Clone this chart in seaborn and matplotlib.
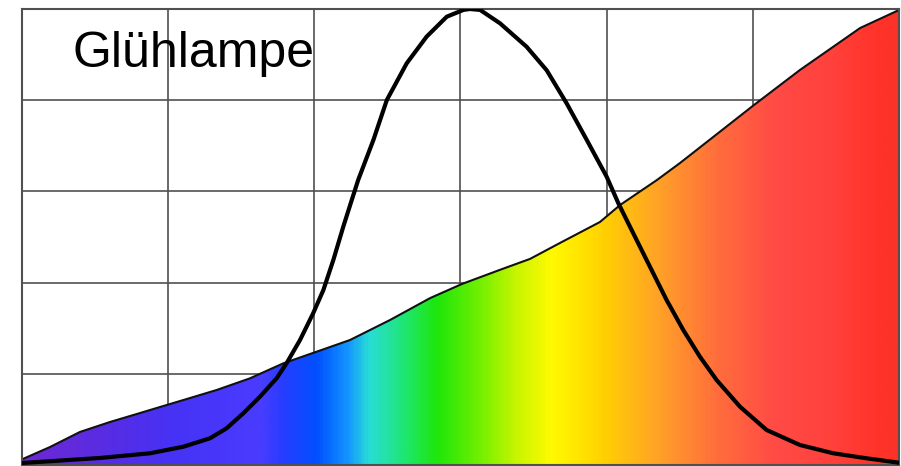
import matplotlib
matplotlib.use("Agg")
import matplotlib.pyplot as plt
from matplotlib.colors import LinearSegmentedColormap
import numpy as np
import seaborn as sns

# black curve (eye sensitivity), wavelength in nm vs relative value
curve_nm = [400.0, 426.7, 443.8, 455.2, 464.3, 470.0, 475.7, 481.4, 487.1, 490.5,
            495.1, 499.6, 503.1, 506.5, 509.9, 512.8, 515.0, 520.2, 524.8, 531.6,
            538.4, 545.3, 551.0, 553.2, 556.7, 563.5, 572.6, 579.5, 586.3, 593.2,
            600.0, 604.0, 609.1, 614.8, 620.5, 626.2, 631.9, 637.6, 645.6, 654.7,
            666.1, 677.5, 688.9, 700.0]
curve_val = [0.44, 1.54, 2.57, 4.01, 5.86, 8.05, 11.34, 14.98, 19.01, 22.30,
             27.41, 33.27, 38.38, 44.96, 52.26, 58.11, 62.50, 71.27, 80.04, 88.09,
             93.93, 98.31, 99.8, 100.0, 99.8, 96.87, 91.73, 86.55, 79.32, 71.27,
             63.22, 57.39, 50.81, 43.49, 36.18, 29.61, 23.75, 18.64, 12.79, 7.68,
             4.39, 2.57, 1.47, 0.50]

# incandescent lamp spectrum (filled area)
lamp_nm = [400.3, 409.6, 419.8, 430.1, 440.4, 443.8, 455.2, 466.6, 478.0, 489.4,
           500.8, 512.2, 525.9, 539.6, 550.5, 563.5, 573.8, 584.0, 597.7, 604.6,
           617.2, 625.1, 650.4, 666.1, 686.7, 700.0]
lamp_val = [1.32, 3.95, 7.24, 9.43, 11.40, 12.06, 14.25, 16.45, 19.01, 22.30,
            24.85, 27.41, 31.80, 36.6, 39.7, 42.8, 45.2, 48.68, 53.29, 57.02,
            62.50, 66.23, 78.95, 86.62, 95.83, 99.78]

# colour stops of the spectrum fill
stop_nm = [400, 431.8, 451.3, 481.1, 488.3, 500.6, 511.5, 518.5, 523.0, 530.0,
           542.0, 557.7, 569.3, 581.3, 598.7, 618.6, 638.1, 657.9, 677.4, 695.2,
           700]
stop_colors = ["#6e28d2", "#552de6", "#4632f5", "#4a3cff", "#2a3cff", "#0050ff",
               "#1496ff", "#28dcd7", "#26e0b4", "#1ee678", "#1ee60a", "#78f000",
               "#c8f500", "#fffa00", "#ffd200", "#ffa028", "#ff6e3c", "#ff4b46",
               "#ff413c", "#ff3228", "#fa3228"]

label = "Glühlampe"

sns.set_style("white")
plt.rcParams['font.family'] = ['Liberation Sans', 'DejaVu Sans']

fig = plt.figure(figsize=(9.01, 4.66), dpi=100)
ax = fig.add_axes([22 / 901, 1 / 466, 877 / 901, 456 / 466])

x0, x1 = stop_nm[0], stop_nm[-1]
cmap = LinearSegmentedColormap.from_list(
    "spec", [((s - x0) / (x1 - x0), c) for s, c in zip(stop_nm, stop_colors)])

# gradient clipped to the lamp spectrum
fill_x = [x0] + lamp_nm
fill_y = [lamp_val[0]] + lamp_val
poly = ax.fill_between(fill_x, fill_y, 0, color="none", lw=0, zorder=1)
grad = np.linspace(0, 1, 600).reshape(1, -1)
im = ax.imshow(grad, cmap=cmap, aspect="auto", extent=[x0, x1, 0, 100],
               origin="lower", zorder=1, interpolation="bilinear")
im.set_clip_path(poly.get_paths()[0], transform=ax.transData)

sns.lineplot(x=lamp_nm, y=lamp_val, ax=ax, color="#111111", lw=1.5, zorder=2,
             solid_joinstyle="round")
sns.lineplot(x=curve_nm, y=curve_val, ax=ax, color="black", lw=3, zorder=3,
             solid_joinstyle="round", solid_capstyle="round")

ax.set_xlim(400, 700)
ax.set_ylim(0, 100)
ax.set_xticks(np.arange(400, 701, 50))
ax.set_yticks(np.arange(0, 101, 20))
ax.tick_params(length=0, labelbottom=False, labelleft=False)
ax.grid(True, color="#505050", lw=1.2)
ax.set_axisbelow(True)
for s in ax.spines.values():
    s.set_color("#505050")
    s.set_linewidth(1.5)
ax.set_xlabel("")
ax.set_ylabel("")

ax.text(417.4, 87.3, label, fontsize=36, color="black",
        va="baseline", ha="left", zorder=4)

fig.savefig("out.png", dpi=100)
